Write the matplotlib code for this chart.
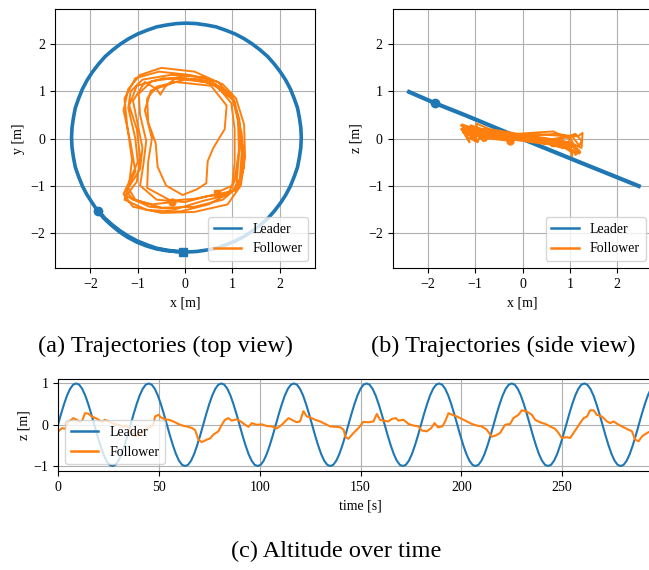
import numpy as np
import matplotlib
matplotlib.use("Agg")
import matplotlib.pyplot as plt

plt.rcParams['font.family'] = ['Liberation Serif', 'DejaVu Serif']
plt.rcParams['font.size'] = 10

BLUE = '#1f77b4'
ORANGE = '#ff7f0e'

# ---------------- Leader, top view (x, y) ----------------
leader_x = [-1.83, -1.69, -1.53, -1.36, -1.19, -1.00, -0.80, -0.60, -0.39, -0.18,
            0.03, 0.24, 0.45, 0.66, 0.86, 1.06, 1.25, 1.42, 1.59, 1.75, 1.89, 2.02,
            2.13, 2.23, 2.31, 2.38, 2.42, 2.45,
            2.46, 2.45, 2.42, 2.38, 2.31, 2.23, 2.13, 2.02, 1.89, 1.75, 1.59, 1.42,
            1.25, 1.06, 0.86, 0.66, 0.45, 0.24,
            0.03, -0.18, -0.39, -0.60, -0.80, -1.00, -1.19, -1.36, -1.53, -1.69, -1.83,
            -1.96, -2.07, -2.17, -2.25, -2.32, -2.36, -2.39,
            -2.40, -2.39, -2.36, -2.32, -2.25, -2.17, -2.07, -1.96,
            -1.86, -1.72, -1.56, -1.39, -1.21, -1.02, -0.82, -0.62, -0.41, -0.20, -0.05]
leader_y = [-1.54, -1.70, -1.84, -1.97, -2.08, -2.18, -2.26, -2.33, -2.37, -2.40,
            -2.41, -2.40, -2.37, -2.33, -2.26, -2.18, -2.08, -1.97, -1.84, -1.70, -1.54, -1.37,
            -1.20, -1.01, -0.81, -0.61, -0.40, -0.19,
            0.02, 0.23, 0.44, 0.65, 0.85, 1.05, 1.24, 1.41, 1.58, 1.74, 1.88, 2.01,
            2.12, 2.22, 2.30, 2.37, 2.41, 2.44,
            2.45, 2.44, 2.41, 2.37, 2.30, 2.22, 2.12, 2.01, 1.88, 1.74, 1.58,
            1.41, 1.24, 1.05, 0.85, 0.65, 0.44, 0.23,
            0.02, -0.19, -0.40, -0.61, -0.81, -1.01, -1.20, -1.37,
            -1.52, -1.69, -1.84, -1.98, -2.10, -2.20, -2.28, -2.34, -2.38, -2.40, -2.40]

# ---------------- Leader, side view (x, z) ----------------
leader_side_x = [-2.40, -1.85, -1.20, 0.00, 1.20, 2.46]
leader_side_z = [0.99, 0.75, 0.49, -0.01, -0.50, -1.01]

# ---------------- Follower, 3-D path ----------------
follower_x = [-0.27, -0.70, -1.10, -1.25, -1.05, -1.15, -1.30, -1.20, -0.95, -0.50,
              0.20, 0.80, 1.08, 1.25, 1.27, 1.18, 0.90, 0.20, -0.50, -1.10,
              -1.30, -1.15, -1.00, -1.05, -1.20, -1.15, -0.90, -0.30, 0.40, 1.00,
              1.15, 1.20, 1.15, 0.80, 0.20, -0.50, -1.05, -1.20, -0.95, -0.90,
              -1.00, -1.10, -0.85, -0.60, -0.52, -0.42, -0.20, 0.50, 1.02, 1.18,
              1.12, 1.08, 0.70, 0.20, -0.30, -0.80, -0.78, -0.70, -0.85, -0.72,
              -0.20, 0.55, 0.88, 0.84, 0.60, 0.48, 0.45, 0.25, -0.05, -0.40,
              -0.58, -0.62, -0.78, -0.80, -0.60, 0.00, 0.60, 1.00, 1.12, 1.14,
              1.05, 0.90, 0.40, -0.20, -0.75, -1.25, -1.02, -0.95, -1.02, -1.18,
              -1.02, -0.45, 0.30, 0.95, 1.10, 1.22, 1.20, 1.00,
              0.50, -0.10, -0.80, -1.28, -1.18, -1.12, -1.22, -1.28, -1.05, -0.55,
              0.10, 0.70, 1.05, 1.20, 1.25, 1.12, 0.85,
              0.50, 0.00, -0.60, -0.95, -0.88, -0.82, -0.95, -0.98, -0.70, -0.10,
              0.65, 0.98, 1.05, 1.05, 1.00, 0.67]
follower_y = [-1.35, -1.40, -1.30, -1.10, -0.70, -0.10, 0.60, 1.05, 1.35, 1.50,
              1.42, 1.15, 0.85, 0.30, -0.40, -1.00, -1.40, -1.56, -1.58, -1.45,
              -1.18, -0.85, -0.50, 0.00, 0.65, 1.00, 1.25, 1.35, 1.30, 0.90,
              0.40, -0.30, -1.00, -1.30, -1.45, -1.47, -1.30, -1.05, -0.65, -0.20,
              0.30, 0.80, 1.20, 1.05, 0.93, 1.10, 1.28, 1.22, 0.82, 0.10,
              -0.60, -1.10, -1.18, -1.28, -1.32, -1.05, -0.50, 0.00, 0.60, 1.02,
              1.20, 1.12, 0.70, 0.20, -0.20, -0.48, -0.95, -1.08, -1.20, -1.00,
              -0.60, -0.10, 0.35, 0.85, 1.10, 1.25, 1.18, 0.92, 0.45, -0.25,
              -0.90, -1.20, -1.32, -1.50, -1.45, -1.22, -0.92, -0.40, 0.20, 0.70,
              1.12, 1.28, 1.26, 0.98, 0.55, -0.20, -0.80, -1.12,
              -1.40, -1.55, -1.52, -1.30, -0.95, -0.45, 0.25, 0.85, 1.28, 1.42,
              1.35, 1.20, 0.78, 0.10, -0.60, -1.05, -1.18,
              -1.22, -1.35, -1.30, -1.00, -0.55, -0.05, 0.50, 0.95, 1.22, 1.30,
              1.15, 0.75, 0.20, -0.50, -1.00, -1.15]
follower_z = [-0.05, 0.00, 0.08, 0.12, 0.05, 0.18, 0.28, 0.20, 0.15, 0.10,
              0.02, -0.05, -0.12, -0.20, 0.12, 0.05, 0.05, 0.10, 0.05, 0.12,
              0.20, 0.10, -0.05, 0.10, 0.22, 0.25, 0.15, 0.08, 0.00, -0.08,
              -0.25, -0.32, -0.20, -0.10, 0.00, 0.08, 0.15, 0.05, -0.08, 0.05,
              0.15, 0.28, 0.20, 0.12, 0.10, 0.12, 0.08, -0.02, -0.10, -0.30,
              -0.35, -0.25, -0.15, -0.05, 0.00, 0.05, -0.05, 0.05, 0.18, 0.15,
              0.10, 0.00, -0.10, -0.20, -0.12, -0.08, -0.05, 0.00, 0.02, 0.05,
              0.00, 0.08, 0.15, 0.22, 0.15, 0.05, -0.02, 0.05, -0.22, -0.28,
              -0.30, -0.20, -0.08, 0.00, 0.05, 0.15, 0.05, -0.06, 0.12, 0.25,
              0.20, 0.12, 0.02, -0.08, -0.18, -0.30, -0.25, -0.15,
              -0.05, 0.05, 0.10, 0.18, 0.02, -0.08, 0.15, 0.30, 0.22, 0.14,
              0.05, 0.10, 0.05, -0.15, -0.05, 0.10, 0.00,
              -0.12, -0.05, 0.02, 0.12, 0.00, -0.06, 0.20, 0.32, 0.20, 0.10,
              0.15, 0.00, -0.38, -0.32, -0.20, -0.10]

# ---------------- Altitude over time ----------------
leader_t_step = 1.5
leader_alt = [
    0.00, 0.26, 0.50, 0.71, 0.87, 0.97, 1.00, 0.97, 0.87, 0.71, 0.50, 0.26,
    0.00, -0.26, -0.50, -0.71, -0.87, -0.97, -1.00, -0.97, -0.87, -0.71, -0.50, -0.26,
    0.00, 0.26, 0.50, 0.71, 0.87, 0.97, 1.00, 0.97, 0.87, 0.71, 0.50, 0.26,
    0.00, -0.26, -0.50, -0.71, -0.87, -0.97, -1.00, -0.97, -0.87, -0.71, -0.50, -0.26,
    0.00, 0.26, 0.50, 0.71, 0.87, 0.97, 1.00, 0.97, 0.87, 0.71, 0.50, 0.26,
    0.00, -0.26, -0.50, -0.71, -0.87, -0.97, -1.00, -0.97, -0.87, -0.71, -0.50, -0.26,
    0.00, 0.26, 0.50, 0.71, 0.87, 0.97, 1.00, 0.97, 0.87, 0.71, 0.50, 0.26,
    0.00, -0.26, -0.50, -0.71, -0.87, -0.97, -1.00, -0.97, -0.87, -0.71, -0.50, -0.26,
    0.00, 0.26, 0.50, 0.71, 0.87, 0.97, 1.00, 0.97, 0.87, 0.71, 0.50, 0.26,
    0.00, -0.26, -0.50, -0.71, -0.87, -0.97, -1.00, -0.97, -0.87, -0.71, -0.50, -0.26,
    0.00, 0.26, 0.50, 0.71, 0.87, 0.97, 1.00, 0.97, 0.87, 0.71, 0.50, 0.26,
    0.00, -0.26, -0.50, -0.71, -0.87, -0.97, -1.00, -0.97, -0.87, -0.71, -0.50, -0.26,
    0.00, 0.26, 0.50, 0.71, 0.87, 0.97, 1.00, 0.97, 0.87, 0.71, 0.50, 0.26,
    0.00, -0.26, -0.50, -0.71, -0.87, -0.97, -1.00, -0.97, -0.87, -0.71, -0.50, -0.26,
    0.00, 0.26, 0.50, 0.71, 0.87, 0.97, 1.00, 0.97, 0.87, 0.71, 0.50, 0.26,
    0.00, -0.26, -0.50, -0.71, -0.87, -0.97, -1.00, -0.97, -0.87, -0.71, -0.50, -0.26,
    0.00, 0.26, 0.50, 0.71, 0.87, 0.97, 1.00,
]
leader_time = np.arange(len(leader_alt)) * leader_t_step

follower_time = [0, 2, 3.5, 5, 7.6, 9.3, 10.9, 12, 13.4, 15, 16.7, 19.2, 21.7, 23.3,
                 25, 27.5, 30, 32, 34, 36, 38, 40.7, 43, 46.5, 47.3, 48.1, 49.8, 51,
                 53.1, 55, 57.2, 60.5, 62.5, 64.6, 66.5, 68, 69.6, 71.3, 73.8, 75.5,
                 77, 79.5, 81.2, 82.8, 84.5, 86.1, 88.6, 90.3, 92.8, 94.5, 96.1, 98.5,
                 101, 103.5, 106, 108.5, 111, 112.6, 114.3, 116.7, 118.4, 120, 121.7,
                 123.4, 125, 127.5, 130, 132.4, 134.9, 137.5, 139.9, 141.6, 142.6, 144,
                 146.5, 149, 151.4, 153.9, 156.4, 158.1, 159.7, 161.4, 163.8, 165.5,
                 167.5, 168.8, 171.3, 173.8, 176.3, 178.7, 180.4, 182.9, 185.1, 186.7,
                 188.4, 190.6, 192, 193.6, 195.6, 197.8, 200.3, 202.7, 205.2, 207.7,
                 210.2, 212.6, 215.1, 217, 219.2, 221.7, 224.2, 225.8, 228.3, 230,
                 232.5, 235, 236.6, 239.1, 241.6, 244, 246.5, 248.2, 249.8, 252.3, 254,
                 255.6, 257.3, 258.9, 260.6, 262.3, 263.9, 265.6, 267.2, 269.7, 272.2,
                 273.8, 275.5, 278, 280.4, 282.9, 284.6, 286.2, 287.9, 289.6, 292.1, 294]
follower_alt = [-0.17, -0.08, -0.10, 0.06, 0.16, 0.12, 0.07, 0.10, 0.28, 0.27, 0.20, 0.15,
                0.07, 0.12, 0.08, 0.03, 0.00, -0.05, -0.02, -0.15, -0.28, -0.25, -0.12,
                -0.04, 0.00, 0.20, 0.24, 0.18, 0.13, 0.12, 0.08, 0.00, -0.03, -0.05,
                -0.08, -0.13, -0.36, -0.42, -0.36, -0.33, -0.24, -0.16, 0.00, 0.12, 0.16,
                0.10, 0.13, 0.09, 0.00, -0.05, 0.04, 0.00, 0.01, -0.03, -0.04, -0.09,
                0.00, 0.08, 0.16, 0.10, 0.06, 0.08, 0.33, 0.20, 0.18, 0.12, 0.08, 0.02,
                -0.04, -0.05, -0.06, -0.12, -0.30, -0.34, -0.20, -0.08, 0.07, 0.06, 0.08,
                0.26, 0.12, 0.10, 0.08, 0.14, 0.16, 0.10, 0.12, 0.02, -0.02, -0.04,
                -0.14, -0.16, -0.08, 0.04, -0.06, -0.04, 0.08, 0.28, 0.24, 0.20, 0.14,
                0.08, 0.02, -0.02, -0.04, -0.12, -0.29, -0.26, -0.20, 0.00, 0.02, 0.16,
                0.24, 0.35, 0.32, 0.24, 0.12, 0.06, 0.02, -0.04, -0.10, -0.20, -0.32,
                -0.30, -0.32, -0.20, -0.08, 0.04, 0.16, 0.20, 0.35, 0.35, 0.24, 0.20,
                0.08, 0.04, 0.08, 0.00, -0.06, -0.12, -0.16, -0.36, -0.40, -0.28, -0.20,
                -0.15]

captions = ['(a) Trajectories (top view)', '(b) Trajectories (side view)',
            '(c) Altitude over time']

W, H = 649, 570
fig = plt.figure(figsize=(W / 100, H / 100), dpi=100)


def px_axes(left, top, right, bottom):
    return fig.add_axes([left / W, 1 - bottom / H, (right - left) / W, (bottom - top) / H])


ax1 = px_axes(55, 9, 315, 268)
ax2 = px_axes(392.5, 9, 652.5, 268)
ax3 = px_axes(58, 378.5, 663, 471)

for ax in (ax1, ax2, ax3):
    ax.grid(True, color='#b0b0b0', linewidth=0.8)
    ax.set_axisbelow(True)


def add_legend(ax, loc):
    leg = ax.legend(loc=loc)
    for ln in leg.get_lines():
        ln.set_linewidth(1.8)
    return leg


# top view
ax1.plot(leader_x, leader_y, color=BLUE, lw=2.6, label='Leader', solid_joinstyle='round')
ax1.plot(follower_x, follower_y, color=ORANGE, lw=1.4, label='Follower')
ax1.plot(leader_x[0], leader_y[0], 'o', color=BLUE, ms=6)
ax1.plot(leader_x[-1], leader_y[-1], 's', color=BLUE, ms=6)
ax1.plot(follower_x[0], follower_y[0], 'o', color=ORANGE, ms=5)
ax1.plot(follower_x[-1], follower_y[-1], 's', color=ORANGE, ms=5)
ax1.set_xlim(-2.75, 2.75)
ax1.set_ylim(-2.75, 2.75)
ax1.set_xticks([-2, -1, 0, 1, 2])
ax1.set_yticks([-2, -1, 0, 1, 2])
ax1.set_xlabel('x [m]')
ax1.set_ylabel('y [m]')
add_legend(ax1, 'lower right')

# side view
ax2.plot(leader_side_x, leader_side_z, color=BLUE, lw=3.0, label='Leader')
ax2.plot(follower_x, follower_z, color=ORANGE, lw=1.4, label='Follower')
ax2.plot(leader_side_x[1], leader_side_z[1], 'o', color=BLUE, ms=6)
ax2.plot(follower_x[0], follower_z[0], 'o', color=ORANGE, ms=5)
ax2.plot(follower_x[-1], follower_z[-1], 's', color=ORANGE, ms=5)
ax2.set_xlim(-2.75, 2.75)
ax2.set_ylim(-2.75, 2.75)
ax2.set_xticks([-2, -1, 0, 1, 2])
ax2.set_yticks([-2, -1, 0, 1, 2])
ax2.set_xlabel('x [m]')
ax2.set_ylabel('z [m]')
add_legend(ax2, 'lower right')

# altitude
ax3.plot(leader_time, leader_alt, color=BLUE, lw=1.5, label='Leader')
ax3.plot(follower_time, follower_alt, color=ORANGE, lw=1.5, label='Follower')
ax3.set_xlim(0, 300)
ax3.set_ylim(-1.12, 1.12)
ax3.set_yticks([-1, 0, 1])
ax3.set_xticks([0, 50, 100, 150, 200, 250])
ax3.set_xlabel('time [s]')
ax3.set_ylabel('z [m]', labelpad=2)
add_legend(ax3, 'lower left')

fig.text(165 / W, 1 - 346 / H, captions[0], ha='center', va='center', fontsize=17.5)
fig.text(503 / W, 1 - 346 / H, captions[1], ha='center', va='center', fontsize=17.5)
fig.text(336 / W, 1 - 551 / H, captions[2], ha='center', va='center', fontsize=17.5)

fig.savefig('out.png', dpi=100)
